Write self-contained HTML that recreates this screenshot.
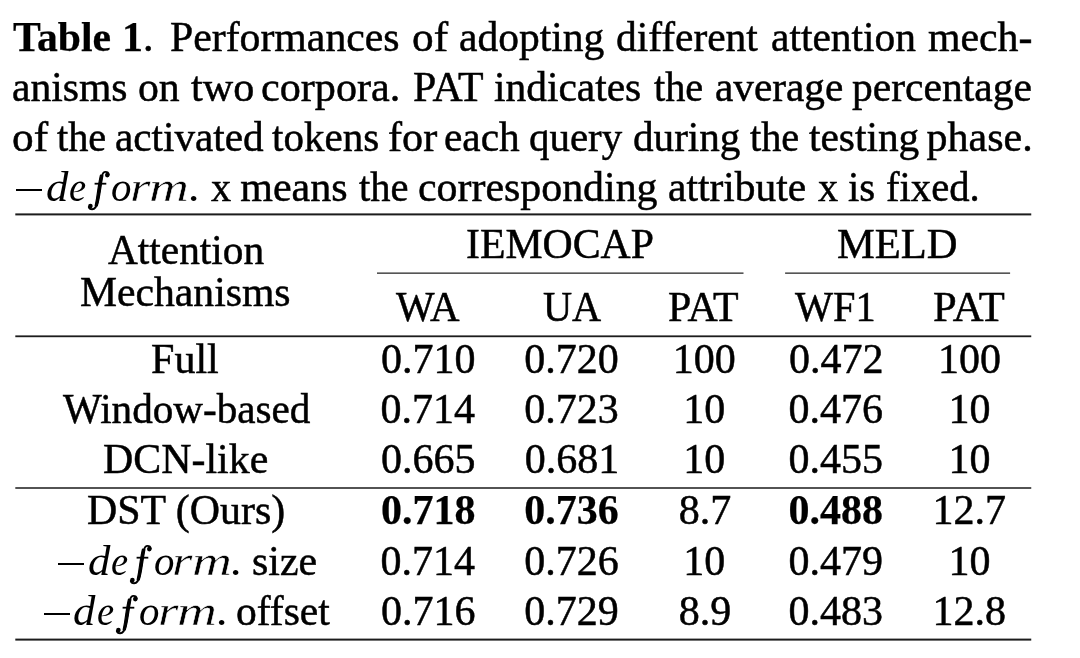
<!DOCTYPE html>
<html><head><meta charset="utf-8">
<style>
html,body{margin:0;padding:0;background:#fff;}
body{width:1080px;height:658px;position:relative;overflow:hidden;font-family:"Liberation Serif",serif;color:#000;font-size:42px;}
#w{position:absolute;left:0;top:0;width:1080px;height:658px;will-change:transform;-webkit-text-stroke:0.5px #000;filter:blur(0.35px);}
.t{position:absolute;white-space:nowrap;line-height:48px;height:48px;transform-origin:0 50%;}
.r{position:absolute;background:#222;height:2px;}
.mm{position:absolute;width:184px;height:0;-webkit-text-stroke:0;}
.mm i{position:absolute;left:0;bottom:-6.825px;line-height:1;font-style:italic;transform-origin:0 0;}
.mm i.mn{width:26px;height:2px;background:#000;bottom:9.85px;}
b{font-weight:bold;-webkit-text-stroke:0.25px #000;}
</style></head><body><div id="w">
<div class="t" style="left:13.11px;top:13.23px;transform:scaleX(0.9918);"><b>Table</b></div>
<div class="t" style="left:122.00px;top:13.23px;"><b>1</b>.</div>
<div class="t" style="left:170.31px;top:13.23px;transform:scaleX(0.9943);">Performances</div>
<div class="t" style="left:411.74px;top:13.23px;transform:scaleX(1.0300);">of</div>
<div class="t" style="left:459.21px;top:13.23px;transform:scaleX(0.9883);">adopting</div>
<div class="t" style="left:616.01px;top:13.23px;transform:scaleX(0.9860);">different</div>
<div class="t" style="left:771.01px;top:13.23px;transform:scaleX(0.9862);">attention</div>
<div class="t" style="left:927.75px;top:13.23px;transform:scaleX(0.9951);">mech-</div>
<div class="t" style="left:12.41px;top:63.23px;transform:scaleX(0.9899);">anisms</div>
<div class="t" style="left:138.01px;top:63.23px;transform:scaleX(0.9936);">on</div>
<div class="t" style="left:191.25px;top:63.23px;transform:scaleX(1.0041);">two</div>
<div class="t" style="left:260.99px;top:63.23px;transform:scaleX(1.0037);">corpora.</div>
<div class="t" style="left:412.75px;top:63.23px;transform:scaleX(0.9964);">PAT</div>
<div class="t" style="left:494.01px;top:63.23px;transform:scaleX(0.9864);">indicates</div>
<div class="t" style="left:654.25px;top:63.23px;transform:scaleX(0.9600);">the</div>
<div class="t" style="left:714.52px;top:63.23px;transform:scaleX(0.9824);">average</div>
<div class="t" style="left:852.01px;top:63.23px;transform:scaleX(0.9889);">percentage</div>
<div class="t" style="left:11.69px;top:112.73px;transform:scaleX(1.0300);">of</div>
<div class="t" style="left:57.00px;top:112.73px;transform:scaleX(0.9600);">the</div>
<div class="t" style="left:114.52px;top:112.73px;transform:scaleX(0.9800);">activated</div>
<div class="t" style="left:272.00px;top:112.73px;transform:scaleX(0.9769);">tokens</div>
<div class="t" style="left:387.74px;top:112.73px;transform:scaleX(1.0052);">for</div>
<div class="t" style="left:444.28px;top:112.73px;transform:scaleX(0.9833);">each</div>
<div class="t" style="left:529.03px;top:112.73px;transform:scaleX(0.9737);">query</div>
<div class="t" style="left:632.77px;top:112.73px;transform:scaleX(0.9792);">during</div>
<div class="t" style="left:750.00px;top:112.73px;transform:scaleX(0.9600);">the</div>
<div class="t" style="left:808.75px;top:112.73px;transform:scaleX(0.9842);">testing</div>
<div class="t" style="left:926.50px;top:112.73px;">phase.</div>
<div class="t" style="left:210.50px;top:163.12px;transform:scaleX(0.9600);">x</div>
<div class="t" style="left:240.25px;top:163.12px;">means</div>
<div class="t" style="left:358.75px;top:163.12px;transform:scaleX(0.9650);">the</div>
<div class="t" style="left:418.01px;top:163.12px;transform:scaleX(0.9968);">corresponding</div>
<div class="t" style="left:667.76px;top:163.12px;transform:scaleX(0.9873);">attribute</div>
<div class="t" style="left:817.50px;top:163.12px;transform:scaleX(0.9600);">x</div>
<div class="t" style="left:848.03px;top:163.12px;transform:scaleX(0.9712);">is</div>
<div class="t" style="left:886.03px;top:163.12px;transform:scaleX(0.9677);">fixed.</div>
<div class="t" style="left:107.50px;top:226.32px;transform:scaleX(0.9842);">Attention</div>
<div class="t" style="left:79.51px;top:267.82px;transform:scaleX(0.9917);">Mechanisms</div>
<div class="t" style="left:466.01px;top:220.32px;transform:scaleX(0.9946);">IEMOCAP</div>
<div class="t" style="left:836.99px;top:220.32px;transform:scaleX(1.0129);">MELD</div>
<div class="t" style="left:395.60px;top:282.62px;transform:scaleX(0.9738);">WA</div>
<div class="t" style="left:542.54px;top:282.62px;transform:scaleX(0.9600);">UA</div>
<div class="t" style="left:668.00px;top:282.62px;transform:scaleX(0.9971);">PAT</div>
<div class="t" style="left:795.00px;top:282.62px;transform:scaleX(0.9604);">WF1</div>
<div class="t" style="left:932.74px;top:282.62px;transform:scaleX(1.0145);">PAT</div>
<div class="t" style="left:151.10px;top:334.52px;">Full</div>
<div class="t" style="left:62.80px;top:384.52px;transform:scaleX(0.9794);">Window-based</div>
<div class="t" style="left:103.10px;top:434.52px;transform:scaleX(0.9975);">DCN-like</div>
<div class="t" style="left:87.00px;top:486.43px;transform:scaleX(0.9974);">DST (Ours)</div>
<div class="t" style="left:251.91px;top:536.53px;transform:scaleX(0.9952);">size</div>
<div class="t" style="left:236.12px;top:586.53px;transform:scaleX(0.9882);">offset</div>
<div class="t" style="left:381.00px;top:334.52px">0.710</div>
<div class="t" style="left:524.20px;top:334.52px">0.720</div>
<div class="t" style="left:672.70px;top:334.52px">100</div>
<div class="t" style="left:789.00px;top:334.52px">0.472</div>
<div class="t" style="left:938.10px;top:334.52px">100</div>
<div class="t" style="left:380.50px;top:384.52px">0.714</div>
<div class="t" style="left:524.20px;top:384.52px">0.723</div>
<div class="t" style="left:683.20px;top:384.52px">10</div>
<div class="t" style="left:788.50px;top:384.52px">0.476</div>
<div class="t" style="left:948.60px;top:384.52px">10</div>
<div class="t" style="left:381.00px;top:434.52px">0.665</div>
<div class="t" style="left:524.70px;top:434.52px">0.681</div>
<div class="t" style="left:683.20px;top:434.52px">10</div>
<div class="t" style="left:788.50px;top:434.52px">0.455</div>
<div class="t" style="left:948.60px;top:434.52px">10</div>
<div class="t" style="left:381.00px;top:486.43px"><b>0.718</b></div>
<div class="t" style="left:524.20px;top:486.43px"><b>0.736</b></div>
<div class="t" style="left:678.70px;top:486.43px">8.7</div>
<div class="t" style="left:788.50px;top:486.43px"><b>0.488</b></div>
<div class="t" style="left:932.60px;top:486.43px">12.7</div>
<div class="t" style="left:380.50px;top:536.53px">0.714</div>
<div class="t" style="left:524.20px;top:536.53px">0.726</div>
<div class="t" style="left:683.20px;top:536.53px">10</div>
<div class="t" style="left:788.50px;top:536.53px">0.479</div>
<div class="t" style="left:948.60px;top:536.53px">10</div>
<div class="t" style="left:381.00px;top:586.53px">0.716</div>
<div class="t" style="left:524.20px;top:586.53px">0.729</div>
<div class="t" style="left:678.70px;top:586.53px">8.9</div>
<div class="t" style="left:788.50px;top:586.53px">0.483</div>
<div class="t" style="left:932.60px;top:586.53px">12.8</div>
<div class="mm" style="left:15.60px;top:201.30px"><i class="mn"></i><i style="left:29.93px;transform:scaleX(1.065);">d</i><i style="left:53.18px;transform:scaleX(0.918);">e</i><svg style="position:absolute;left:70px;top:-32px;overflow:visible" width="26" height="44" viewBox="0 0 26 44"><path d="M22.8,5.6 C22.5,3.8 21,2.9 19.5,2.9 C17.3,2.9 16.4,4.9 15.8,7.5 L11.8,32 C11,36.5 9.4,40.3 6.1,40.3 C4.3,40.3 3.1,39.3 2.8,38" fill="none" stroke="#000" stroke-width="1.9" stroke-linecap="round"/><path d="M16.9,6.5 C15.9,11 15.4,15 14.5,21 C13.6,27 12.6,33 11.2,37 L9.2,36.6 C10.2,32 11,27 11.8,21 C12.7,15 13.4,10 14.5,6.1 Z" fill="#000" stroke="#000" stroke-width="1.2" stroke-linejoin="round"/><circle cx="21.3" cy="6.1" r="2.3" fill="#000"/><circle cx="4.4" cy="37.1" r="2.3" fill="#000"/><path d="M8.6,14.7 H20.3" stroke="#000" stroke-width="1.8" fill="none"/></svg><i style="left:95.83px;transform:scaleX(0.974);">o</i><i style="left:114.20px;transform:scaleX(1.250);-webkit-text-stroke:0.45px #fff;">r</i><i style="left:133.86px;transform:scaleX(1.319);-webkit-text-stroke:0.45px #fff;">m</i><i style="left:173.60px;transform:scaleX(1.100);">.</i></div>
<div class="mm" style="left:57.80px;top:574.70px"><i class="mn"></i><i style="left:29.93px;transform:scaleX(1.065);">d</i><i style="left:53.18px;transform:scaleX(0.918);">e</i><svg style="position:absolute;left:70px;top:-32px;overflow:visible" width="26" height="44" viewBox="0 0 26 44"><path d="M22.8,5.6 C22.5,3.8 21,2.9 19.5,2.9 C17.3,2.9 16.4,4.9 15.8,7.5 L11.8,32 C11,36.5 9.4,40.3 6.1,40.3 C4.3,40.3 3.1,39.3 2.8,38" fill="none" stroke="#000" stroke-width="1.9" stroke-linecap="round"/><path d="M16.9,6.5 C15.9,11 15.4,15 14.5,21 C13.6,27 12.6,33 11.2,37 L9.2,36.6 C10.2,32 11,27 11.8,21 C12.7,15 13.4,10 14.5,6.1 Z" fill="#000" stroke="#000" stroke-width="1.2" stroke-linejoin="round"/><circle cx="21.3" cy="6.1" r="2.3" fill="#000"/><circle cx="4.4" cy="37.1" r="2.3" fill="#000"/><path d="M8.6,14.7 H20.3" stroke="#000" stroke-width="1.8" fill="none"/></svg><i style="left:95.83px;transform:scaleX(0.974);">o</i><i style="left:114.20px;transform:scaleX(1.250);-webkit-text-stroke:0.45px #fff;">r</i><i style="left:133.86px;transform:scaleX(1.319);-webkit-text-stroke:0.45px #fff;">m</i><i style="left:173.60px;transform:scaleX(1.100);">.</i></div>
<div class="mm" style="left:43.50px;top:624.70px"><i class="mn"></i><i style="left:29.93px;transform:scaleX(1.065);">d</i><i style="left:53.18px;transform:scaleX(0.918);">e</i><svg style="position:absolute;left:70px;top:-32px;overflow:visible" width="26" height="44" viewBox="0 0 26 44"><path d="M22.8,5.6 C22.5,3.8 21,2.9 19.5,2.9 C17.3,2.9 16.4,4.9 15.8,7.5 L11.8,32 C11,36.5 9.4,40.3 6.1,40.3 C4.3,40.3 3.1,39.3 2.8,38" fill="none" stroke="#000" stroke-width="1.9" stroke-linecap="round"/><path d="M16.9,6.5 C15.9,11 15.4,15 14.5,21 C13.6,27 12.6,33 11.2,37 L9.2,36.6 C10.2,32 11,27 11.8,21 C12.7,15 13.4,10 14.5,6.1 Z" fill="#000" stroke="#000" stroke-width="1.2" stroke-linejoin="round"/><circle cx="21.3" cy="6.1" r="2.3" fill="#000"/><circle cx="4.4" cy="37.1" r="2.3" fill="#000"/><path d="M8.6,14.7 H20.3" stroke="#000" stroke-width="1.8" fill="none"/></svg><i style="left:95.83px;transform:scaleX(0.974);">o</i><i style="left:114.20px;transform:scaleX(1.250);-webkit-text-stroke:0.45px #fff;">r</i><i style="left:133.86px;transform:scaleX(1.319);-webkit-text-stroke:0.45px #fff;">m</i><i style="left:173.60px;transform:scaleX(1.100);">.</i></div>
<svg style="position:absolute;left:0;top:0" width="1080" height="658" viewBox="0 0 1080 658"><rect x="15.3" y="213.40" width="1015.95" height="2.0" fill="#1c1c1c"/><rect x="377" y="272.45" width="366.50" height="1.4" fill="#3a3a3a"/><rect x="785.1" y="272.45" width="225.00" height="1.4" fill="#3a3a3a"/><rect x="15.3" y="335.40" width="1015.95" height="1.8" fill="#1c1c1c"/><rect x="15.3" y="487.20" width="1015.95" height="1.6" fill="#2a2a2a"/><rect x="15.3" y="638.60" width="1015.95" height="2.0" fill="#1c1c1c"/></svg>
</div></body></html>
